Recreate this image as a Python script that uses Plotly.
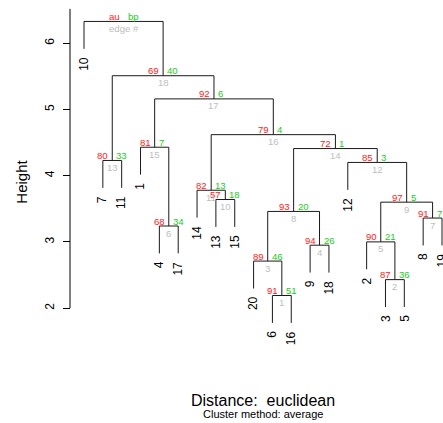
import plotly.graph_objects as go

# hclust-style merge table: negative = leaf label, positive = earlier merge (edge #)
merge_left = [-6, -3, -20, -9, -2, -4, -8, 3, 5, -13, -14, -12, -7, 8, -1, 11, 15, 13, -10]
merge_right = [-16, -5, 1, -18, 2, -17, -19, 4, 7, -15, 10, 9, -11, 12, 6, 14, 16, 17, 18]
merge_height = [2.19, 2.43, 2.71, 2.95, 3.00, 3.24, 3.36, 3.46, 3.60, 3.64,
                3.78, 4.20, 4.23, 4.41, 4.43, 4.62, 5.16, 5.51, 6.33]

# AU / BP p-values (%) for edges 1..18
au_values = [91, 87, 89, 94, 90, 68, 91, 93, 97, 57, 82, 85, 80, 72, 81, 79, 92, 69]
bp_values = [51, 36, 46, 26, 21, 34, 7, 20, 5, 18, 13, 3, 33, 1, 7, 4, 6, 40]

y_ticks = [2, 3, 4, 5, 6]

FONT = "Liberation Sans, Arial, Helvetica, sans-serif"
W, H = 443, 423
X_RANGE = [-3.458, 20.053]
Y_RANGE = [0.264, 6.654]
AXIS_X = 70 / W
AU_COL, BP_COL, EDGE_COL = "#ff2020", "#22cc22", "#bebebe"

n_merge = len(merge_height)
hang = 0.1 * (max(merge_height) - min(merge_height))

# leaf order from a left-first traversal of the tree
def leaves(node):
    if node < 0:
        return [-node]
    return leaves(merge_left[node - 1]) + leaves(merge_right[node - 1])

order = leaves(n_merge)
leaf_x = {lab: i + 1 for i, lab in enumerate(order)}

node_x = {}
def pos(node):
    if node < 0:
        return leaf_x[-node]
    if node not in node_x:
        node_x[node] = (pos(merge_left[node - 1]) + pos(merge_right[node - 1])) / 2
    return node_x[node]

xs, ys = [], []
leaf_ends = {}
for k in range(1, n_merge + 1):
    h = merge_height[k - 1]
    cx = []
    for child in (merge_left[k - 1], merge_right[k - 1]):
        x = pos(child)
        if child < 0:
            y_bot = h - hang
            leaf_ends[-child] = y_bot
        else:
            y_bot = merge_height[child - 1]
        xs += [x, x, None]
        ys += [y_bot, h, None]
        cx.append(x)
    xs += [cx[0], cx[1], None]
    ys += [h, h, None]

fig = go.Figure()
fig.add_trace(go.Scatter(x=xs, y=ys, mode="lines",
                         line=dict(color="#1a1a1a", width=1),
                         hoverinfo="skip", showlegend=False))

ann = []
# leaf labels, rotated, hanging below each leaf
for lab, x in leaf_x.items():
    ann.append(dict(x=x, y=leaf_ends[lab], xref="x", yref="y", text=str(lab),
                    textangle=-90, showarrow=False, xanchor="center", yanchor="top",
                    yshift=-6, font=dict(family=FONT, size=12, color="#000000")))

def node_labels(x, h, au, bp, edge):
    out = []
    out.append(dict(x=x, y=h, xref="x", yref="y", text=au, showarrow=False,
                    xanchor="right", yanchor="middle", xshift=-2, yshift=5,
                    font=dict(family=FONT, size=9.6, color=AU_COL)))
    out.append(dict(x=x, y=h, xref="x", yref="y", text=bp, showarrow=False,
                    xanchor="left", yanchor="middle", xshift=2, yshift=5,
                    font=dict(family=FONT, size=9.6, color=BP_COL)))
    out.append(dict(x=x, y=h, xref="x", yref="y", text=edge, showarrow=False,
                    xanchor="center", yanchor="middle", yshift=-7,
                    font=dict(family=FONT, size=9.6, color=EDGE_COL)))
    return out

for k in range(1, n_merge):
    ann += node_labels(pos(k), merge_height[k - 1], str(au_values[k - 1]),
                       str(bp_values[k - 1]), str(k))
ann += node_labels(pos(n_merge), merge_height[-1], "au", "bp", "edge #")

# axis title and main / sub titles
ann.append(dict(x=21.7 / W, y=3.905, xref="paper", yref="y", text="Height",
                textangle=-90, showarrow=False, xanchor="center", yanchor="middle",
                font=dict(family=FONT, size=15, color="#000000")))
ann.append(dict(x=263 / W, y=1 - 400.5 / H, xref="paper", yref="paper",
                text="Distance:  euclidean", showarrow=False,
                xanchor="center", yanchor="middle",
                font=dict(family=FONT, size=16, color="#000000")))
ann.append(dict(x=263 / W, y=1 - 414 / H, xref="paper", yref="paper",
                text="Cluster method: average", showarrow=False,
                xanchor="center", yanchor="middle",
                font=dict(family=FONT, size=11, color="#000000")))

fig.update_layout(
    width=W, height=H,
    margin=dict(l=0, r=0, t=0, b=0),
    paper_bgcolor="white", plot_bgcolor="white",
    showlegend=False,
    annotations=ann,
    shapes=[dict(type="line", xref="paper", yref="y", x0=AXIS_X, x1=AXIS_X,
                 y0=min(y_ticks), y1=6.52, line=dict(color="#000000", width=1))],
    xaxis=dict(range=X_RANGE, visible=False, domain=[0, 1]),
    yaxis=dict(range=Y_RANGE, domain=[0, 1], anchor="free", position=AXIS_X,
               tickvals=y_ticks, ticktext=[str(v) for v in y_ticks],
               ticks="outside", ticklen=7, tickwidth=1, tickcolor="#000000",
               tickangle=-90, ticklabelstandoff=4,
               showline=False, showgrid=False, zeroline=False,
               tickfont=dict(family=FONT, size=12, color="#000000")),
)

fig.write_html("out.html")
